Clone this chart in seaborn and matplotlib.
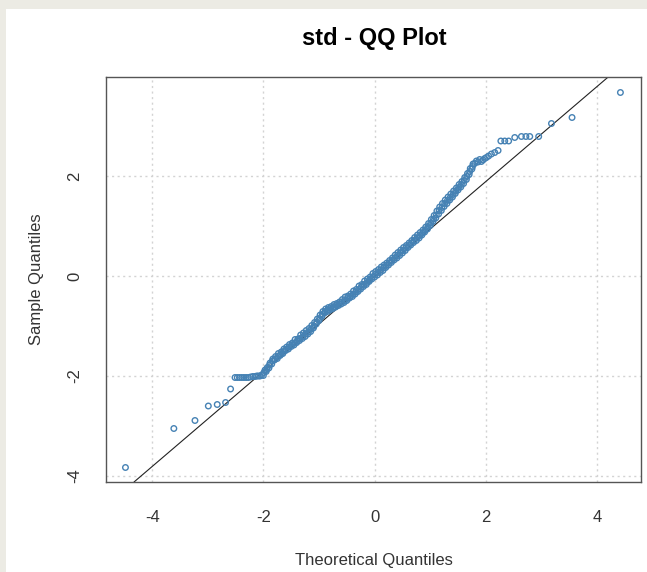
import matplotlib
matplotlib.use("Agg")
import matplotlib.pyplot as plt
from matplotlib.patches import Rectangle
import seaborn as sns
import pandas as pd

# Lower tail of the QQ plot (theoretical, sample quantiles)
lower_theo = [-4.48, -3.61, -3.23, -2.99, -2.83, -2.68, -2.59, -2.51, -2.47, -2.43,
              -2.39, -2.35, -2.31, -2.27, -2.23, -2.19, -2.15, -2.12, -2.09, -2.06, -2.03]
lower_sample = [-3.83, -3.05, -2.89, -2.60, -2.57, -2.53, -2.26, -2.03, -2.03, -2.03,
                -2.03, -2.03, -2.03, -2.03, -2.02, -2.01, -2.01, -2.00, -2.00, -2.00, -1.98]

# Central body, outer edges of the band
body_theo = [-2.00, -1.97, -1.95, -1.93, -1.90, -1.88, -1.85, -1.83, -1.80, -1.78,
             -1.75, -1.73, -1.70, -1.68, -1.65, -1.63, -1.60, -1.58, -1.55, -1.53,
             -1.50, -1.48, -1.45, -1.43, -1.40, -1.38, -1.35, -1.33, -1.30, -1.28,
             -1.25, -1.23, -1.20, -1.18, -1.15, -1.13, -1.10, -1.08, -1.05, -1.03,
             -1.00, -0.98, -0.95, -0.93, -0.90, -0.88, -0.85, -0.83, -0.80, -0.78,
             -0.75, -0.73, -0.70, -0.68, -0.65, -0.63, -0.60, -0.58, -0.55, -0.53,
             -0.50, -0.48, -0.45, -0.43, -0.40, -0.38, -0.35, -0.33, -0.30, -0.28,
             -0.25, -0.23, -0.20, -0.18, -0.15, -0.13, -0.10, -0.08, -0.05, -0.03,
             0.00, 0.02, 0.05, 0.07, 0.10, 0.12, 0.15, 0.17, 0.20, 0.22,
             0.25, 0.27, 0.30, 0.32, 0.35, 0.37, 0.40, 0.42, 0.45, 0.47,
             0.50, 0.52, 0.55, 0.57, 0.60, 0.62, 0.65, 0.67, 0.70, 0.72,
             0.75, 0.77, 0.80, 0.82, 0.85, 0.87, 0.90, 0.92, 0.95, 0.97,
             1.00, 1.02, 1.05, 1.07, 1.10, 1.12, 1.15, 1.17, 1.20, 1.22,
             1.25, 1.27, 1.30, 1.32, 1.35, 1.37, 1.40, 1.42, 1.45, 1.47,
             1.50, 1.52, 1.55, 1.57, 1.60, 1.62, 1.65, 1.67, 1.70, 1.72,
             1.75, 1.77, 1.80, 1.83, 1.86, 1.89, 1.92, 1.95, 1.98, 2.01,
             2.05, 2.10, 2.16, 2.22]
body_sample = [-1.99, -1.88, -1.91, -1.83, -1.84, -1.74, -1.76, -1.66, -1.68, -1.61,
               -1.65, -1.55, -1.59, -1.52, -1.55, -1.46, -1.49, -1.42, -1.46, -1.37,
               -1.41, -1.34, -1.38, -1.27, -1.33, -1.26, -1.29, -1.18, -1.25, -1.14,
               -1.21, -1.09, -1.16, -1.05, -1.11, -0.99, -1.04, -0.93, -0.96, -0.86,
               -0.89, -0.78, -0.81, -0.71, -0.74, -0.66, -0.71, -0.63, -0.68, -0.61,
               -0.65, -0.57, -0.62, -0.55, -0.59, -0.52, -0.56, -0.47, -0.53, -0.42,
               -0.49, -0.40, -0.44, -0.36, -0.41, -0.30, -0.36, -0.27, -0.31, -0.20,
               -0.26, -0.17, -0.21, -0.10, -0.17, -0.06, -0.11, -0.02, -0.06, 0.05,
               -0.02, 0.09, 0.02, 0.13, 0.07, 0.18, 0.11, 0.22, 0.17, 0.26,
               0.22, 0.31, 0.27, 0.36, 0.32, 0.42, 0.36, 0.47, 0.41, 0.52,
               0.46, 0.57, 0.51, 0.61, 0.57, 0.66, 0.62, 0.71, 0.67, 0.77,
               0.71, 0.82, 0.76, 0.87, 0.82, 0.92, 0.88, 0.98, 0.94, 1.05,
               1.01, 1.13, 1.09, 1.21, 1.16, 1.30, 1.24, 1.38, 1.31, 1.45,
               1.39, 1.52, 1.45, 1.58, 1.52, 1.64, 1.58, 1.70, 1.65, 1.76,
               1.72, 1.83, 1.78, 1.89, 1.85, 1.97, 1.93, 2.05, 2.03, 2.15,
               2.14, 2.24, 2.25, 2.30, 2.28, 2.33, 2.29, 2.32, 2.35, 2.37,
               2.40, 2.44, 2.47, 2.51]

# Central body, middle of the band
core_theo = [-1.99, -1.94, -1.89, -1.84, -1.79, -1.74, -1.69, -1.64, -1.59, -1.54,
             -1.49, -1.44, -1.39, -1.34, -1.29, -1.24, -1.19, -1.14, -1.09, -1.04,
             -0.99, -0.94, -0.89, -0.84, -0.79, -0.74, -0.69, -0.64, -0.59, -0.54,
             -0.49, -0.44, -0.39, -0.34, -0.29, -0.24, -0.19, -0.14, -0.09, -0.04,
             0.01, 0.06, 0.11, 0.16, 0.21, 0.26, 0.31, 0.36, 0.41, 0.46,
             0.51, 0.56, 0.61, 0.66, 0.71, 0.76, 0.81, 0.86, 0.91, 0.96,
             1.01, 1.06, 1.11, 1.16, 1.21, 1.26, 1.31, 1.36, 1.41, 1.46,
             1.51, 1.56, 1.61, 1.66, 1.71, 1.76]
core_sample = [-1.93, -1.87, -1.78, -1.70, -1.66, -1.61, -1.57, -1.51, -1.47, -1.42,
               -1.38, -1.34, -1.30, -1.25, -1.21, -1.16, -1.12, -1.06, -1.00, -0.92,
               -0.85, -0.77, -0.71, -0.68, -0.65, -0.62, -0.59, -0.56, -0.52, -0.49,
               -0.45, -0.41, -0.37, -0.32, -0.27, -0.22, -0.17, -0.13, -0.08, -0.02,
               0.03, 0.07, 0.12, 0.16, 0.21, 0.26, 0.31, 0.36, 0.41, 0.46,
               0.51, 0.56, 0.61, 0.66, 0.71, 0.76, 0.81, 0.86, 0.92, 0.99,
               1.06, 1.14, 1.22, 1.31, 1.37, 1.45, 1.51, 1.57, 1.63, 1.70,
               1.77, 1.83, 1.91, 1.99, 2.09, 2.19]

# Upper tail
upper_theo = [2.27, 2.34, 2.41, 2.52, 2.64, 2.72, 2.79, 2.95, 3.18, 3.55, 4.42]
upper_sample = [2.70, 2.70, 2.70, 2.77, 2.79, 2.79, 2.79, 2.79, 3.05, 3.17, 3.67]

# Reference line through the quartiles
line_intercept = -0.01
line_slope = 0.95

x_ticks = [-4, -2, 0, 2, 4]
y_ticks = [-4, -2, 0, 2]

df = pd.DataFrame({
    "theoretical": lower_theo + body_theo + core_theo + upper_theo,
    "sample": lower_sample + body_sample + core_sample + upper_sample,
})

sns.set_style("white")
plt.rcParams["font.family"] = ["Liberation Sans", "DejaVu Sans"]

fig = plt.figure(figsize=(6.47, 5.72), dpi=100, facecolor="#ECEBE4")
# white plotting panel inside the beige frame
fig.patches.append(Rectangle((6 / 647, 0), 1, (572 - 9) / 572,
                             transform=fig.transFigure, facecolor="white",
                             edgecolor="none", zorder=-10))

ax = fig.add_axes([106 / 647, 1 - 482 / 572, (641 - 106) / 647, (482 - 77) / 572])
ax.set_zorder(5)
ax.set_facecolor("white")

ax.set_xlim(-4.83, 4.79)
ax.set_ylim(-4.12, 3.98)

for xv in x_ticks:
    ax.axvline(xv, color="#D3D3D3", lw=1, ls=(0, (1.5, 2.5)), zorder=0)
for yv in y_ticks:
    ax.axhline(yv, color="#D3D3D3", lw=1, ls=(0, (1.5, 2.5)), zorder=0)

ax.axline((0, line_intercept), slope=line_slope, color="#222222", lw=0.8, zorder=2)

sns.scatterplot(data=df, x="theoretical", y="sample", ax=ax, marker="o",
                s=16, facecolor="none", edgecolor="#4682B4", linewidth=1.0,
                zorder=3, legend=False)

ax.set_xticks(x_ticks)
ax.set_yticks(y_ticks)
ax.set_xticklabels([str(v) for v in x_ticks])
ax.set_yticklabels([str(v) for v in y_ticks], rotation=90, va="center")
ax.tick_params(axis="both", direction="out", length=9, width=1, color="#333333",
               labelsize=12, labelcolor="#333333")
ax.tick_params(axis="x", pad=11)
ax.tick_params(axis="y", pad=8)
for sp in ax.spines.values():
    sp.set_color("#555555")
    sp.set_linewidth(1)

ax.set_xlabel("Theoretical Quantiles", fontsize=12, color="#333333", labelpad=20)
ax.set_ylabel("Sample Quantiles", fontsize=12, color="#333333", labelpad=17)
fig.text(374 / 647, 1 - 39 / 572, "std - QQ Plot", ha="center", va="center",
         fontsize=17, fontweight="bold", color="black")

fig.savefig("out.png", dpi=100, facecolor=fig.get_facecolor())
